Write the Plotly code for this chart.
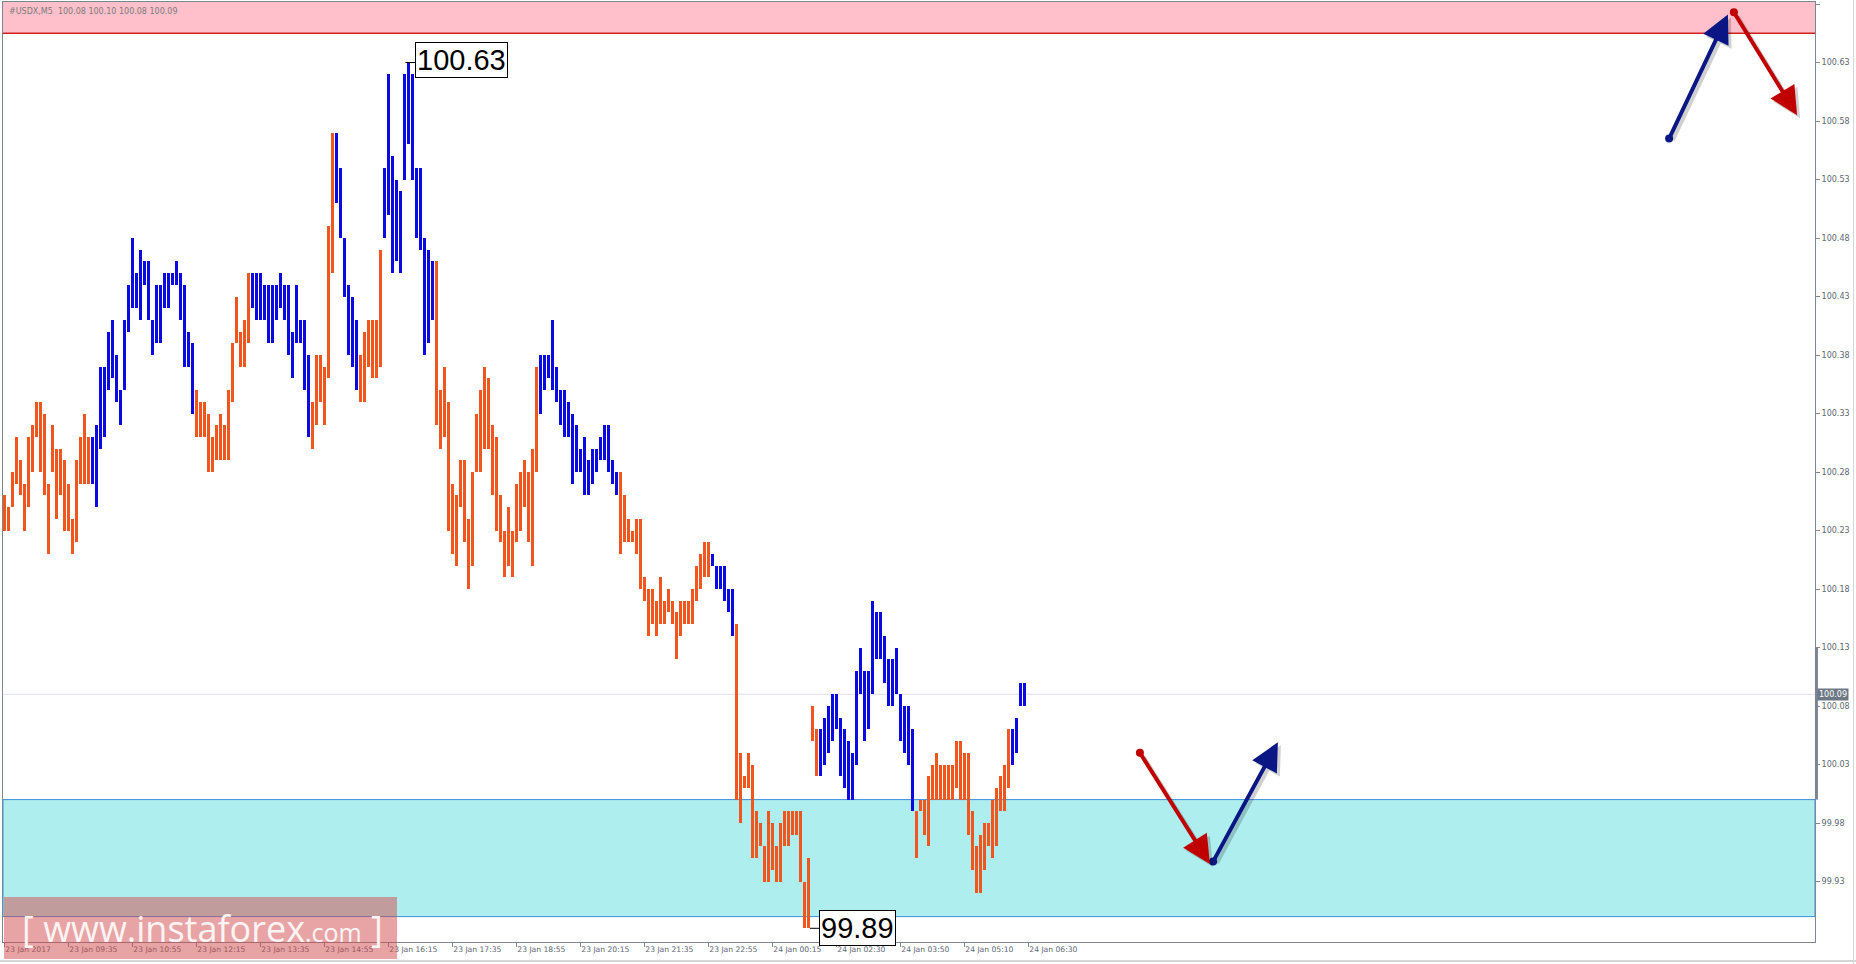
import plotly.graph_objects as go

# ---------------- data ----------------
symbol_info = "#USDX,M5  100.08 100.10 100.08 100.09"

highs = [
    100.26, 100.25, 100.28, 100.31, 100.29, 100.27, 100.31, 100.32, 100.34, 100.34,
    100.33, 100.27, 100.32, 100.30, 100.30, 100.29, 100.27, 100.24, 100.29, 100.31,
    100.33, 100.31, 100.31, 100.32, 100.37, 100.37, 100.40, 100.41, 100.38, 100.35,
    100.41, 100.44, 100.48,
    100.45, 100.47, 100.46, 100.46, 100.41, 100.44, 100.44, 100.45, 100.45, 100.45,
    100.46, 100.45, 100.44, 100.40, 100.39,
    100.35, 100.34, 100.34, 100.33, 100.31, 100.32, 100.33, 100.32, 100.35, 100.39,
    100.43, 100.40, 100.41, 100.45,
    100.45, 100.45, 100.45, 100.44, 100.44, 100.44, 100.44,
    100.45, 100.44, 100.44, 100.40, 100.44, 100.41, 100.41, 100.38,
    100.34, 100.38, 100.38, 100.37, 100.49, 100.57,
    100.57, 100.54, 100.48, 100.44, 100.43, 100.41,
    100.38, 100.40, 100.41, 100.41, 100.41, 100.47,
    100.54, 100.62, 100.55, 100.53, 100.52, 100.62, 100.63, 100.62, 100.54, 100.54,
    100.48, 100.47, 100.46,
    100.46, 100.35, 100.37, 100.34, 100.27, 100.26, 100.29, 100.29, 100.24, 100.28,
    100.33, 100.35, 100.37, 100.36, 100.32, 100.31, 100.26, 100.23, 100.25, 100.23,
    100.27, 100.28, 100.29, 100.28, 100.30, 100.37,
    100.38, 100.38, 100.38, 100.41, 100.37, 100.35,
    100.35, 100.34, 100.33, 100.32, 100.30, 100.31, 100.29, 100.30, 100.30, 100.31,
    100.32, 100.32, 100.29, 100.28,
    100.28, 100.26, 100.24, 100.23, 100.24, 100.24, 100.19, 100.18, 100.18, 100.17,
    100.19, 100.17, 100.18, 100.17, 100.16, 100.17, 100.17, 100.17, 100.18, 100.20,
    100.21, 100.22, 100.22,
    100.21, 100.20, 100.20, 100.20, 100.18, 100.18,
    100.15, 100.04, 100.02, 100.04, 100.03, 99.99, 99.98, 99.96, 99.99, 99.98,
    99.96, 99.98, 99.99, 99.99, 99.99, 99.99, 99.99, 99.93, 99.95,
    100.08, 100.06,
    100.06, 100.07, 100.08, 100.09, 100.09, 100.07, 100.06, 100.05, 100.04, 100.11,
    100.13, 100.11, 100.11, 100.17, 100.16, 100.16, 100.14, 100.12, 100.12, 100.13,
    100.09, 100.08, 100.08, 100.06,
    99.99, 100.00, 100.00, 100.02, 100.03, 100.04, 100.03, 100.03, 100.03, 100.03,
    100.05, 100.05, 100.04, 100.04, 99.99, 99.96, 99.97, 99.98, 99.98, 100.00,
    100.01, 100.02, 100.03, 100.06,
    100.06, 100.07, 100.10, 100.10,
]

lows = [
    100.23, 100.23, 100.25, 100.27, 100.26, 100.23, 100.25, 100.28, 100.31, 100.28,
    100.26, 100.21, 100.28, 100.24, 100.26, 100.23, 100.23, 100.21, 100.22, 100.27,
    100.27, 100.27, 100.27, 100.25, 100.30, 100.31, 100.35, 100.36, 100.34, 100.32,
    100.35, 100.40, 100.42,
    100.42, 100.41, 100.44, 100.41, 100.38, 100.39, 100.39, 100.42, 100.42, 100.44,
    100.44, 100.41, 100.37, 100.37, 100.33,
    100.31, 100.31, 100.31, 100.28, 100.28, 100.29, 100.29, 100.29, 100.29, 100.34,
    100.39, 100.37, 100.37, 100.39,
    100.42, 100.41, 100.41, 100.41, 100.39, 100.39, 100.41,
    100.42, 100.41, 100.38, 100.36, 100.39, 100.39, 100.35, 100.31,
    100.30, 100.32, 100.34, 100.32, 100.36, 100.45,
    100.51, 100.48, 100.43, 100.38, 100.37, 100.35,
    100.34, 100.34, 100.37, 100.36, 100.36, 100.37,
    100.48, 100.50, 100.45, 100.46, 100.45, 100.53, 100.56, 100.53, 100.48, 100.47,
    100.38, 100.39, 100.41,
    100.32, 100.30, 100.31, 100.23, 100.21, 100.20, 100.25, 100.22, 100.18, 100.20,
    100.28, 100.28, 100.30, 100.30, 100.26, 100.23, 100.22, 100.19, 100.20, 100.19,
    100.22, 100.23, 100.25, 100.22, 100.20, 100.28,
    100.33, 100.35, 100.36, 100.35, 100.34, 100.32,
    100.31, 100.31, 100.27, 100.28, 100.28, 100.26, 100.26, 100.27, 100.28, 100.29,
    100.29, 100.28, 100.27, 100.26,
    100.21, 100.22, 100.22, 100.22, 100.21, 100.18, 100.17, 100.14, 100.15, 100.14,
    100.15, 100.15, 100.16, 100.15, 100.12, 100.14, 100.15, 100.15, 100.15, 100.17,
    100.18, 100.19, 100.19,
    100.20, 100.18, 100.18, 100.17, 100.16, 100.14,
    100.00, 99.98, 100.01, 100.01, 99.95, 99.95, 99.96, 99.93, 99.93, 99.94,
    99.93, 99.93, 99.96, 99.96, 99.97, 99.97, 99.93, 99.89, 99.89,
    100.05, 100.02,
    100.02, 100.03, 100.04, 100.05, 100.06, 100.02, 100.01, 100.00, 100.00, 100.03,
    100.09, 100.05, 100.06, 100.09, 100.12, 100.12, 100.10, 100.08, 100.08, 100.09,
    100.05, 100.04, 100.03, 99.99,
    99.95, 99.99, 99.97, 99.96, 100.00, 100.00, 100.00, 100.00, 100.00, 100.00,
    100.01, 100.00, 100.00, 99.97, 99.94, 99.92, 99.92, 99.94, 99.96, 99.95,
    99.96, 99.99, 99.99, 100.01,
    100.03, 100.04, 100.08, 100.08,
]

# colour runs of the wave indicator: (trend, number of bars)
trend_runs = [
    ("down", 22), ("up", 26), ("down", 14), ("up", 15), ("down", 6), ("up", 6),
    ("down", 6), ("up", 13), ("down", 26), ("up", 20), ("down", 23), ("up", 6),
    ("down", 21), ("up", 24), ("down", 24), ("up", 4),
]

time_labels = [
    "23 Jan 2017", "23 Jan 09:35", "23 Jan 10:55", "23 Jan 12:15", "23 Jan 13:35",
    "23 Jan 14:55", "23 Jan 16:15", "23 Jan 17:35", "23 Jan 18:55", "23 Jan 20:15",
    "23 Jan 21:35", "23 Jan 22:55", "24 Jan 00:15", "24 Jan 02:30", "24 Jan 03:50",
    "24 Jan 05:10", "24 Jan 06:30",
]
bars_per_label = 16

price_ticks = [99.93, 99.98, 100.03, 100.08, 100.13, 100.18, 100.23, 100.28,
               100.33, 100.38, 100.43, 100.48, 100.53, 100.58, 100.63, 100.68]

current_price = 100.09
resistance_zone = [100.655, 100.70]
support_zone = [99.90, 100.00]
axis_marker = [100.00, 100.13]

# forecast arrows: (start bar, start price, end bar, end price, colour)
forecast_arrows = [
    (416.2, 100.565, 430.9, 100.671, "#0a1683"),
    (432.4, 100.673, 448.2, 100.585, "#c00000"),
    (283.9, 100.040, 301.4, 99.945, "#c00000"),
    (302.2, 99.947, 318.4, 100.049, "#0a1683"),
]

# ---------------- figure ----------------
colors = []
for trend, n in trend_runs:
    colors += [("#f0561e" if trend == "down" else "#0b0be0")] * n

n_bars = len(highs)
idx = list(range(n_bars))

fig = go.Figure()

fig.add_trace(go.Bar(
    x=idx, y=[h - l for h, l in zip(highs, lows)], base=lows,
    width=0.6, marker=dict(color=colors, line=dict(width=0)),
    hoverinfo="skip", showlegend=False,
))

W, H = 1856, 964
L, R, T, B = 3, 41, 2, 22
px_per_bar = 4.0
first_bar_px = 4.3
x0 = (L - first_bar_px) / px_per_bar
x1 = (W - R - first_bar_px) / px_per_bar
ppu = 1170.0
y_top = 100.68 + (4 - T) / ppu
y_bot = 100.68 - (H - B - 4) / ppu


def px_x(p):
    return (p - L) / (W - L - R)


def px_y(p):
    return (H - B - p) / (H - T - B)


shapes = []
# resistance (pink) zone
shapes.append(dict(type="rect", xref="paper", yref="y", x0=0, x1=1,
                   y0=resistance_zone[0], y1=resistance_zone[1],
                   fillcolor="#ffc0cb", line=dict(width=0), layer="below"))
shapes.append(dict(type="line", xref="paper", yref="y", x0=0, x1=1,
                   y0=resistance_zone[0], y1=resistance_zone[0],
                   line=dict(color="#d42020", width=1.5), layer="below"))
# support (cyan) zone
shapes.append(dict(type="rect", xref="paper", yref="y", x0=0, x1=1,
                   y0=support_zone[0], y1=support_zone[1],
                   fillcolor="#afeeee", line=dict(color="#3b8fdc", width=1), layer="below"))
# bid line
shapes.append(dict(type="line", xref="paper", yref="y", x0=0, x1=1,
                   y0=current_price, y1=current_price,
                   line=dict(color="#dcdcf4", width=1), layer="below"))
# marker on price axis
shapes.append(dict(type="line", xref="paper", yref="y", x0=1.0008, x1=1.0008,
                   y0=axis_marker[0], y1=axis_marker[1],
                   line=dict(color="#7a8591", width=3)))
# outer window frame (right / bottom)
shapes.append(dict(type="line", xref="paper", yref="paper", x0=px_x(W - 2.5), x1=px_x(W - 2.5),
                   y0=px_y(H), y1=px_y(0), line=dict(color="#d6d6d6", width=1)))
shapes.append(dict(type="line", xref="paper", yref="paper", x0=px_x(0), x1=px_x(W),
                   y0=px_y(H - 3), y1=px_y(H - 3), line=dict(color="#d6d6d6", width=2)))

# extreme labels
i_max = max(range(n_bars), key=lambda i: highs[i])
i_min = max(i for i in range(n_bars) if lows[i] == min(lows))
hi, lo = highs[i_max], lows[i_min]
shapes.append(dict(type="line", xref="x", yref="y", x0=i_max - 0.7, x1=i_max + 1.7,
                   y0=hi, y1=hi, line=dict(color="black", width=1)))
shapes.append(dict(type="line", xref="x", yref="y", x0=i_min + 0.4, x1=i_min + 2.7,
                   y0=lo, y1=lo, line=dict(color="black", width=1)))

# watermark box
shapes.append(dict(type="rect", xref="paper", yref="paper",
                   x0=px_x(4), x1=px_x(397), y0=px_y(959), y1=px_y(897),
                   fillcolor="rgba(209,73,73,0.5)", line=dict(width=0), layer="above"))

annotations = []
annotations.append(dict(xref="x", yref="y", x=i_max + 1.7, y=hi, text=f"{hi:.2f}",
                        xanchor="left", yanchor="middle", showarrow=False, yshift=3,
                        font=dict(family="Liberation Sans, Arial", size=29, color="black"),
                        bgcolor="white", bordercolor="black", borderwidth=1, borderpad=1))
annotations.append(dict(xref="x", yref="y", x=i_min + 2.7, y=lo, text=f"{lo:.2f}",
                        xanchor="left", yanchor="middle", showarrow=False,
                        font=dict(family="Liberation Sans, Arial", size=29, color="black"),
                        bgcolor="white", bordercolor="black", borderwidth=1, borderpad=1))
# symbol info
annotations.append(dict(xref="paper", yref="paper", x=px_x(7), y=px_y(11), text=symbol_info,
                        xanchor="left", yanchor="middle", showarrow=False,
                        font=dict(family="DejaVu Sans", size=8, color="#7c7c7c")))
# current price label
annotations.append(dict(xref="paper", yref="y", x=1.0, y=current_price, text=f"{current_price:.2f}",
                        xanchor="left", yanchor="middle", showarrow=False, xshift=2,
                        font=dict(family="DejaVu Sans", size=8, color="white"),
                        bgcolor="#6c7884", borderpad=1))
# watermark text
annotations.append(dict(xref="paper", yref="paper", x=px_x(20), y=px_y(928),
                        text="[ www.instaforex<span style='font-size:25px'>.com</span> ]",
                        xanchor="left", yanchor="middle", showarrow=False,
                        font=dict(family="Open Sans", size=36, color="#fbf4f4")))

# forecast arrows (shadow first)
for (sx, sy, ex, ey, col) in forecast_arrows:
    annotations.append(dict(xref="x", yref="y", axref="x", ayref="y", x=ex, y=ey, ax=sx, ay=sy,
                            text="", showarrow=True, arrowhead=2, arrowsize=1.4, arrowwidth=4,
                            arrowcolor="rgba(0,0,0,0.18)", xshift=3, yshift=-3))
for (sx, sy, ex, ey, col) in forecast_arrows:
    annotations.append(dict(xref="x", yref="y", axref="x", ayref="y", x=ex, y=ey, ax=sx, ay=sy,
                            text="", showarrow=True, arrowhead=2, arrowsize=1.4, arrowwidth=4,
                            arrowcolor=col))

fig.add_trace(go.Scatter(
    x=[a[0] for a in forecast_arrows], y=[a[1] for a in forecast_arrows],
    mode="markers", marker=dict(color=[a[4] for a in forecast_arrows], size=8),
    hoverinfo="skip", showlegend=False, cliponaxis=False,
))

tick_idx = [k * bars_per_label for k in range(len(time_labels))]

fig.update_layout(
    width=W, height=H,
    margin=dict(l=L, r=R, t=T, b=B, pad=0),
    paper_bgcolor="white", plot_bgcolor="white",
    bargap=0, showlegend=False,
    shapes=shapes, annotations=annotations,
    xaxis=dict(range=[x0, x1], showgrid=False, zeroline=False,
               showline=True, linecolor="#7d8792", linewidth=1, mirror=True,
               tickmode="array", tickvals=tick_idx, ticktext=time_labels,
               ticks="outside", ticklen=4, tickcolor="#7d8792",
               ticklabelposition="outside right",
               tickfont=dict(family="DejaVu Sans", size=7.6, color="#5c6772"),
               fixedrange=True),
    yaxis=dict(range=[y_bot, y_top], side="right", showgrid=False, zeroline=False,
               showline=True, linecolor="#7d8792", linewidth=1, mirror=True,
               tickmode="array", tickvals=price_ticks,
               ticktext=[f"{v:.2f}" for v in price_ticks],
               ticks="outside", ticklen=4, tickcolor="#7d8792",
               tickfont=dict(family="DejaVu Sans", size=8, color="#5c6772"),
               fixedrange=True),
)

fig.write_html("out.html", config={"displayModeBar": False},
               post_script="document.body.style.margin='0';document.body.style.overflow='hidden';")
